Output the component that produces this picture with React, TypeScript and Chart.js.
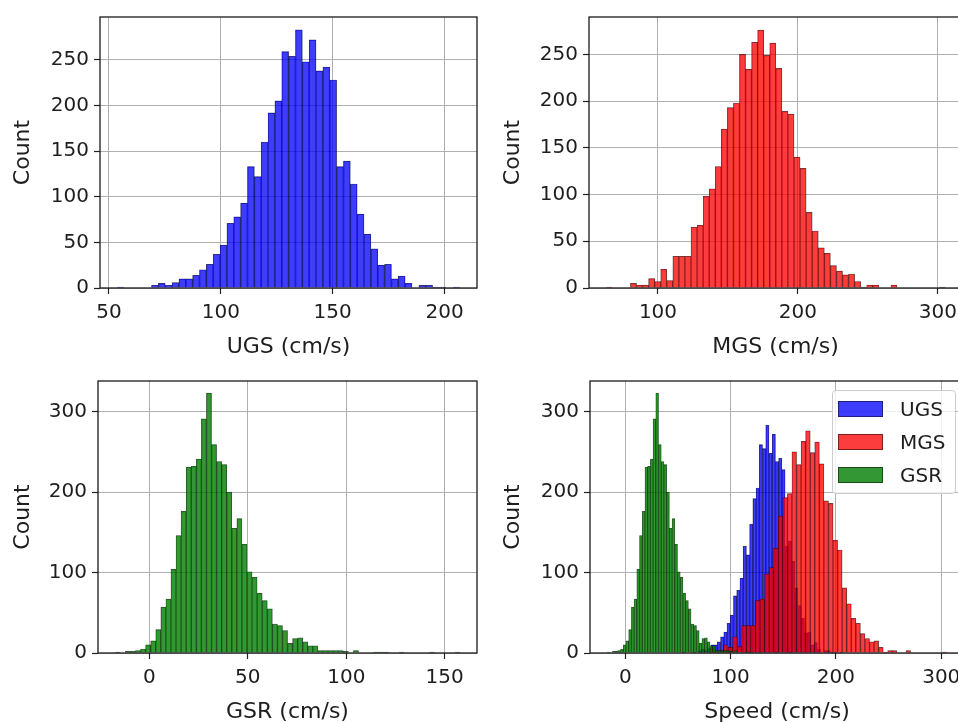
import React, { useEffect, useRef } from "react";
import { Chart, registerables } from "chart.js";

Chart.register(...registerables);

// ---- histogram data (bin start, bin width, counts) ----
const UGS_START = 53.7;
const UGS_WIDTH = 3.064;
const UGS_COUNTS = [
  1, 0, 0, 0, 0, 3, 5, 3, 6, 10,
  10, 14, 20, 26, 37, 47, 71, 78, 93, 133,
  122, 160, 192, 205, 259, 254, 283, 248, 272, 238,
  242, 228, 133, 139, 114, 81, 59, 43, 25, 26,
  10, 13, 5, 0, 3, 3, 1, 1, 0, 1,
];

const MGS_START = 63.0;
const MGS_WIDTH = 4.33;
const MGS_COUNTS = [
  1, 0, 0, 0, 5, 3, 3, 10, 7, 20,
  8, 34, 34, 34, 65, 67, 98, 106, 130, 170,
  193, 198, 250, 234, 263, 276, 249, 262, 235, 189,
  186, 140, 128, 81, 61, 43, 37, 24, 18, 14,
  15, 7, 1, 3, 3, 0, 0, 3, 0, 0,
  0, 0, 0, 0, 0, 1,
];

const GSR_START = -17.35;
const GSR_WIDTH = 2.574;
const GSR_COUNTS = [
  1, 0, 2, 2, 3, 5, 10, 15, 29, 57,
  67, 104, 146, 176, 231, 232, 241, 291, 323, 259,
  238, 234, 200, 155, 167, 135, 101, 94, 74, 65,
  55, 36, 34, 28, 12, 18, 19, 14, 9, 9,
  3, 3, 3, 3, 3, 2, 0, 3, 0, 0,
  0, 1, 1, 1, 0, 0, 1, 0, 0, 0,
  0, 0, 1, 0, 0, 0, 0, 1,
];

// ---- axis ticks and labels ----
const UGS_TICKS = [50, 100, 150, 200];
const MGS_TICKS = [100, 200, 300];
const GSR_TICKS = [0, 50, 100, 150];
const SPEED_TICKS = [0, 100, 200, 300];
const COUNT_TICKS_TOP = [0, 50, 100, 150, 200, 250];
const COUNT_TICKS_BOTTOM = [0, 100, 200, 300];
const SERIES_LABELS = ["UGS", "MGS", "GSR"];
const X_TITLES = ["UGS (cm/s)", "MGS (cm/s)", "GSR (cm/s)", "Speed (cm/s)"];
const Y_TITLE = "Count";

const FONT = "DejaVu Sans";
const FILL = {
  UGS: "rgba(0,0,250,0.76)",
  MGS: "rgba(250,0,0,0.76)",
  GSR: "rgba(0,125,0,0.8)",
};
const EDGE = "rgba(0,0,0,0.7)";

function toPoints(start: number, width: number, counts: number[]) {
  return counts.map((c, i) => ({ x: start + (i + 0.5) * width, y: c }));
}

const framePlugin = {
  id: "frame",
  afterDraw(chart: any) {
    const { ctx, chartArea: a } = chart;
    ctx.save();
    ctx.strokeStyle = "#1a1a1a";
    ctx.lineWidth = 1.3;
    ctx.strokeRect(a.left, a.top, a.right - a.left, a.bottom - a.top);
    ctx.restore();
  },
};

type Series = { label: string; points: { x: number; y: number }[]; color: string };

type PanelSpec = {
  series: Series[];
  xMin: number;
  xMax: number;
  xTicks: number[];
  xTitle: string;
  yMax: number;
  yTicks: number[];
  yWidth: number;
  xHeight: number;
  padTop: number;
  padRight: number;
  xTitlePadBottom: number;
};

const GRID = {
  color: "#b0b0b0",
  lineWidth: 1,
  drawTicks: true,
  tickLength: 6,
  tickColor: "#222",
  tickWidth: 1.2,
  offset: false,
};

function buildConfig(p: PanelSpec): any {
  const scales: any = {
    y: {
      type: "linear",
      min: 0,
      max: p.yMax,
      z: 1,
      afterBuildTicks: (s: any) => {
        s.ticks = p.yTicks.map((v) => ({ value: v }));
      },
      afterFit: (s: any) => {
        s.width = p.yWidth;
      },
      border: { display: false },
      grid: GRID,
      ticks: { font: { family: FONT, size: 20 }, color: "#1e1e1e", padding: 5 },
      title: {
        display: true,
        text: Y_TITLE,
        font: { family: FONT, size: 22 },
        color: "#1e1e1e",
        padding: { top: 10, bottom: 0 },
      },
    },
  };
  const datasets: any[] = [];
  p.series.forEach((s, i) => {
    const id = i === 0 ? "x" : "x" + i;
    scales[id] = {
      type: "linear",
      min: p.xMin,
      max: p.xMax,
      offset: false,
      display: i === 0,
      z: 1,
      afterBuildTicks: (sc: any) => {
        sc.ticks = p.xTicks.map((v) => ({ value: v }));
      },
      afterFit: (sc: any) => {
        if (i === 0) sc.height = p.xHeight;
      },
      border: { display: false },
      grid: GRID,
      ticks: {
        font: { family: FONT, size: 20 },
        color: "#1e1e1e",
        padding: 7,
        maxRotation: 0,
        autoSkip: false,
      },
      title: {
        display: true,
        text: p.xTitle,
        font: { family: FONT, size: 22 },
        color: "#1e1e1e",
        padding: { top: 0, bottom: p.xTitlePadBottom },
      },
    };
    datasets.push({
      type: "bar",
      label: s.label,
      data: s.points,
      xAxisID: id,
      yAxisID: "y",
      backgroundColor: s.color,
      borderColor: EDGE,
      borderWidth: 0.5,
      barPercentage: 1,
      categoryPercentage: 1,
      grouped: false,
      order: p.series.length - i,
    });
  });
  return {
    type: "bar",
    data: { datasets },
    options: {
      animation: false,
      responsive: false,
      maintainAspectRatio: false,
      devicePixelRatio: 1,
      layout: { padding: { top: p.padTop, right: p.padRight, left: 0, bottom: 0 } },
      plugins: { legend: { display: false }, tooltip: { enabled: false } },
      scales,
    },
    plugins: [framePlugin],
  };
}

function Panel({ spec, left, top, width, height }: { spec: PanelSpec; left: number; top: number; width: number; height: number }) {
  const ref = useRef<HTMLCanvasElement | null>(null);
  useEffect(() => {
    if (!ref.current) return;
    const chart = new Chart(ref.current, buildConfig(spec));
    return () => chart.destroy();
  }, [spec]);
  return (
    <canvas
      ref={ref}
      width={width}
      height={height}
      style={{ position: "absolute", left, top, width, height }}
    />
  );
}

const ugsPts = toPoints(UGS_START, UGS_WIDTH, UGS_COUNTS);
const mgsPts = toPoints(MGS_START, MGS_WIDTH, MGS_COUNTS);
const gsrPts = toPoints(GSR_START, GSR_WIDTH, GSR_COUNTS);

const SPEC_TL: PanelSpec = {
  series: [{ label: SERIES_LABELS[0], points: ugsPts, color: FILL.UGS }],
  xMin: 46.0, xMax: 214.5, xTicks: UGS_TICKS, xTitle: X_TITLES[0],
  yMax: 297, yTicks: COUNT_TICKS_TOP,
  yWidth: 100, xHeight: 73, padTop: 16, padRight: 13, xTitlePadBottom: 1,
};
const SPEC_TR: PanelSpec = {
  series: [{ label: SERIES_LABELS[1], points: mgsPts, color: FILL.MGS }],
  xMin: 50.7, xMax: 317.3, xTicks: MGS_TICKS, xTitle: X_TITLES[1],
  yMax: 290, yTicks: COUNT_TICKS_TOP,
  yWidth: 99, xHeight: 73, padTop: 15, padRight: 18, xTitlePadBottom: 1,
};
const SPEC_BL: PanelSpec = {
  series: [{ label: SERIES_LABELS[2], points: gsrPts, color: FILL.GSR }],
  xMin: -26.1, xMax: 166.4, xTicks: GSR_TICKS, xTitle: X_TITLES[2],
  yMax: 338, yTicks: COUNT_TICKS_BOTTOM,
  yWidth: 98, xHeight: 69, padTop: 20, padRight: 13, xTitlePadBottom: -3,
};
const SPEC_BR: PanelSpec = {
  series: [
    { label: SERIES_LABELS[0], points: ugsPts, color: FILL.UGS },
    { label: SERIES_LABELS[1], points: mgsPts, color: FILL.MGS },
    { label: SERIES_LABELS[2], points: gsrPts, color: FILL.GSR },
  ],
  xMin: -33.5, xMax: 321.6, xTicks: SPEED_TICKS, xTitle: X_TITLES[3],
  yMax: 338, yTicks: COUNT_TICKS_BOTTOM,
  yWidth: 100, xHeight: 69, padTop: 20, padRight: 16, xTitlePadBottom: -3,
};

function Legend() {
  const items = [
    { label: SERIES_LABELS[0], color: FILL.UGS },
    { label: SERIES_LABELS[1], color: FILL.MGS },
    { label: SERIES_LABELS[2], color: FILL.GSR },
  ];
  return (
    <div
      style={{
        position: "absolute",
        left: 832,
        top: 390,
        width: 124,
        height: 104,
        border: "1px solid #cccccc",
        borderRadius: 4,
        background: "rgba(255,255,255,0.8)",
        boxSizing: "border-box",
      }}
    >
      {items.map((it, i) => (
        <div
          key={it.label}
          style={{ position: "absolute", left: 5, top: 10 + i * 33, height: 16, display: "flex", alignItems: "center" }}
        >
          <div style={{ width: 45, height: 16, background: it.color, border: "1px solid rgba(0,0,0,0.5)", boxSizing: "border-box" }} />
          <span style={{ marginLeft: 17, fontFamily: FONT, fontSize: 20, color: "#1e1e1e", lineHeight: "16px" }}>{it.label}</span>
        </div>
      ))}
    </div>
  );
}

export default function App() {
  return (
    <div
      style={{
        position: "fixed",
        left: 0,
        top: 0,
        width: 958,
        height: 722,
        overflow: "hidden",
        background: "#ffffff",
      }}
    >
      <Panel spec={SPEC_TL} left={0} top={0} width={490} height={361} />
      <Panel spec={SPEC_TR} left={490} top={0} width={490} height={361} />
      <Panel spec={SPEC_BL} left={0} top={361} width={490} height={361} />
      <Panel spec={SPEC_BR} left={490} top={361} width={490} height={361} />
      <Legend />
    </div>
  );
}
